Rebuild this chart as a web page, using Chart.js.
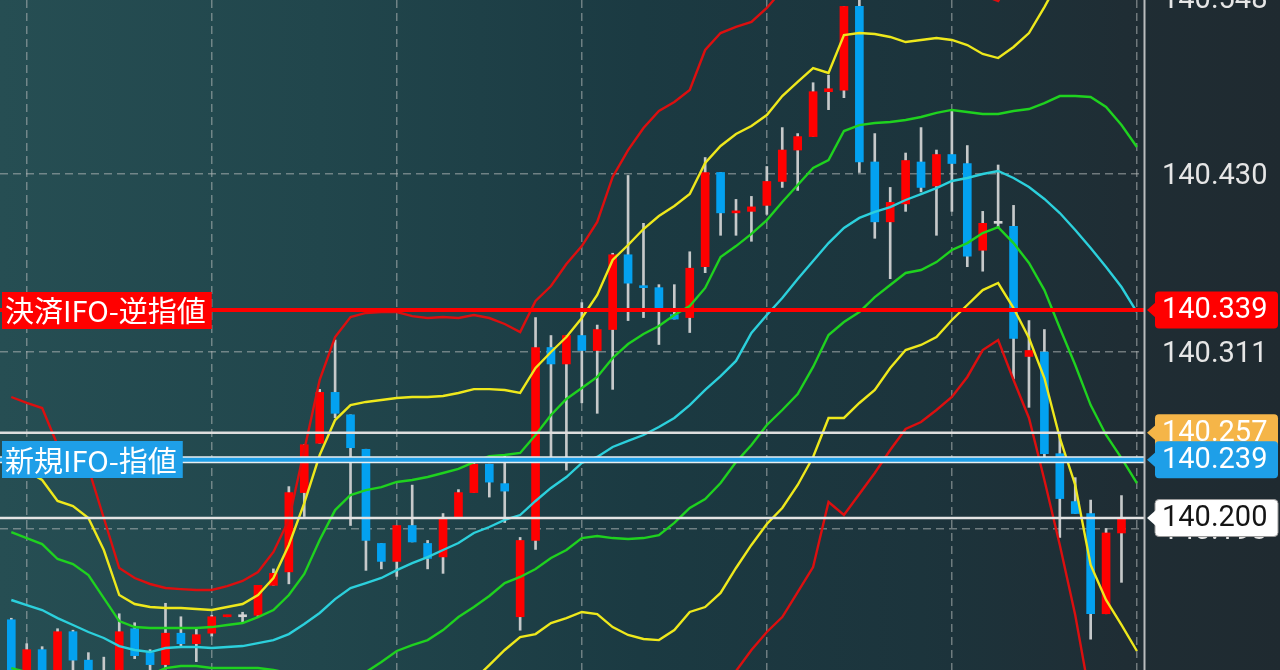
<!DOCTYPE html>
<html><head><meta charset="utf-8">
<script src="https://cdn.jsdelivr.net/npm/chart.js@4.4.1/dist/chart.umd.min.js"></script>
<style>
html,body{margin:0;padding:0;width:1280px;height:670px;overflow:hidden;
background:linear-gradient(90deg,#264e53 0%,#21464c 25%,#1b3a42 50%,#1c343c 72%,#1f2d34 88%,#1f2a30 100%);}
#wrap{position:absolute;left:0;top:0;width:1280px;height:670px;}
</style></head><body>
<div id="wrap"><canvas id="c"></canvas></div>
<script>
// ---- candle data (73 bars) ----
const opens = [140.132,140.088,140.112,140.085,140.124,140.105,140.084,140.092,140.126,140.110,
140.102,140.123,140.116,140.123,140.134,140.134,140.135,140.155,140.164,140.217,
140.250,140.284,140.269,140.246,140.183,140.171,140.195,140.183,140.174,140.200,
140.217,140.236,140.223,140.134,140.185,140.314,140.303,140.322,140.312,140.326,
140.376,140.355,140.354,140.336,140.334,140.368,140.431,140.404,140.405,140.409,
140.425,140.446,140.455,140.485,140.486,140.542,140.438,140.398,140.410,140.438,
140.422,140.443,140.437,140.379,140.397,140.395,140.308,140.311,140.243,140.211,
140.203,140.136,140.190];
const highs = [140.133,140.116,140.114,140.126,140.125,140.110,140.107,140.136,140.130,140.112,
140.143,140.134,140.126,140.135,140.135,140.137,140.155,140.166,140.221,140.249,
140.286,140.319,140.269,140.246,140.183,140.195,140.222,140.185,140.203,140.219,
140.237,140.236,140.242,140.187,140.334,140.322,140.322,140.344,140.329,140.377,
140.429,140.397,140.356,140.356,140.378,140.441,140.431,140.413,140.415,140.435,
140.461,140.457,140.491,140.496,140.542,140.548,140.457,140.421,140.444,140.461,
140.446,140.473,140.449,140.405,140.436,140.409,140.332,140.326,140.257,140.227,
140.212,140.193,140.215];
const lows = [140.078,140.082,140.078,140.082,140.095,140.078,140.078,140.082,140.106,140.098,
140.099,140.114,140.104,140.121,140.134,140.130,140.134,140.155,140.156,140.201,
140.250,140.267,140.195,140.165,140.166,140.161,140.184,140.166,140.163,140.200,
140.217,140.214,140.197,140.125,140.179,140.241,140.232,140.277,140.270,140.286,
140.332,140.334,140.316,140.333,140.324,140.364,140.389,140.389,140.385,140.403,
140.421,140.419,140.455,140.473,140.481,140.431,140.387,140.360,140.405,140.418,
140.389,140.405,140.368,140.365,140.394,140.293,140.274,140.241,140.187,140.203,
140.119,140.136,140.157];
const closes = [140.085,140.112,140.085,140.124,140.105,140.085,140.093,140.124,140.108,140.102,
140.123,140.116,140.122,140.134,140.135,140.134,140.155,140.163,140.217,140.249,
140.284,140.270,140.247,140.185,140.171,140.195,140.184,140.173,140.200,140.217,
140.236,140.224,140.218,140.185,140.314,140.303,140.322,140.312,140.326,140.376,
140.357,140.354,140.340,140.333,140.367,140.431,140.404,140.405,140.408,140.425,
140.446,140.455,140.485,140.487,140.542,140.438,140.398,140.411,140.439,140.421,
140.443,140.437,140.375,140.397,140.397,140.320,140.312,140.243,140.213,140.203,
140.136,140.190,140.200];

// ---- Bollinger band lines (74 points) ----
const bbMid = [140.1452,140.1418,140.1385,140.1331,140.1285,140.1238,140.1198,140.1144,140.1118,140.1104,
140.1131,140.1138,140.1138,140.1131,140.1138,140.1144,140.1164,140.1184,140.1224,140.1291,
140.1365,140.1458,140.1532,140.1565,140.1599,140.1652,140.1699,140.1739,140.1786,140.1833,
140.1900,140.1940,140.1987,140.2020,140.2114,140.2201,140.2274,140.2368,140.2408,140.2475,
140.2515,140.2555,140.2608,140.2669,140.2755,140.2856,140.2949,140.3050,140.3237,140.3357,
140.3471,140.3598,140.3718,140.3838,140.3939,140.4006,140.4046,140.4079,140.4126,140.4166,
140.4206,140.4253,140.4273,140.4300,140.4320,140.4273,140.4213,140.4133,140.4039,140.3925,
140.3805,140.3678,140.3544,140.3377];
const bbUp1 = [140.1906,140.1866,140.1826,140.1726,140.1692,140.1619,140.1465,140.1311,140.1271,140.1265,
140.1265,140.1265,140.1265,140.1271,140.1285,140.1298,140.1338,140.1385,140.1485,140.1626,
140.1853,140.2053,140.2154,140.2187,140.2207,140.2241,140.2254,140.2274,140.2301,140.2328,
140.2374,140.2414,140.2421,140.2435,140.2555,140.2689,140.2796,140.2869,140.2943,140.3070,
140.3163,140.3230,140.3284,140.3357,140.3417,140.3538,140.3745,140.3818,140.3899,140.3992,
140.4113,140.4226,140.4340,140.4393,140.4587,140.4627,140.4641,140.4647,140.4661,140.4681,
140.4708,140.4728,140.4714,140.4701,140.4701,140.4721,140.4734,140.4774,140.4821,140.4821,
140.4815,140.4748,140.4627,140.4480];
const bbLow1 = [140.0997,140.0970,140.0944,140.0937,140.0877,140.0857,140.0930,140.0977,140.0964,140.0950,
140.0997,140.1011,140.1011,140.0997,140.0997,140.0997,140.0997,140.0984,140.0964,140.0944,
140.0877,140.0863,140.0904,140.0970,140.1037,140.1111,140.1151,140.1184,140.1251,140.1338,
140.1405,140.1479,140.1565,140.1606,140.1659,140.1733,140.1786,140.1866,140.1880,140.1866,
140.1860,140.1866,140.1886,140.1967,140.2067,140.2127,140.2234,140.2374,140.2488,140.2622,
140.2722,140.2829,140.3010,140.3223,140.3310,140.3377,140.3477,140.3558,140.3638,140.3658,
140.3711,140.3792,140.3838,140.3905,140.3945,140.3838,140.3705,140.3524,140.3270,140.3023,
140.2755,140.2555,140.2401,140.2234];
const bbUp2 = [140.2361,140.2314,140.2254,140.2114,140.2080,140.2000,140.1786,140.1485,140.1425,140.1405,
140.1398,140.1398,140.1392,140.1385,140.1405,140.1425,140.1485,140.1599,140.1820,140.2100,
140.2421,140.2655,140.2755,140.2776,140.2789,140.2802,140.2809,140.2809,140.2816,140.2836,
140.2862,140.2862,140.2856,140.2836,140.3003,140.3110,140.3210,140.3337,140.3491,140.3725,
140.3825,140.3932,140.4019,140.4086,140.4166,140.4373,140.4487,140.4567,140.4621,140.4694,
140.4821,140.4915,140.5008,140.4975,140.5229,140.5242,140.5236,140.5216,140.5182,140.5196,
140.5209,140.5196,140.5162,140.5102,140.5075,140.5149,140.5242,140.5416,140.5603,140.5717,
140.5824,140.5817,140.5710,140.5583];
const bbLow2 = [140.0543,140.0522,140.0502,140.0543,140.0469,140.0476,140.0663,140.0810,140.0810,140.0783,
140.0863,140.0884,140.0884,140.0850,140.0843,140.0837,140.0817,140.0783,140.0703,140.0623,
140.0389,140.0268,140.0289,140.0322,140.0382,140.0476,140.0589,140.0670,140.0757,140.0843,
140.0917,140.1017,140.1118,140.1204,140.1224,140.1298,140.1331,140.1372,140.1358,140.1271,
140.1218,140.1191,140.1184,140.1251,140.1372,140.1405,140.1499,140.1666,140.1820,140.1960,
140.2067,140.2221,140.2408,140.2669,140.2669,140.2769,140.2856,140.3003,140.3123,140.3157,
140.3210,140.3324,140.3424,140.3524,140.3571,140.3404,140.3203,140.2936,140.2535,140.2221,
140.1686,140.1452,140.1285,140.1111];
const bbUp3 = [140.2809,140.2769,140.2735,140.2488,140.2441,140.2334,140.2000,140.1666,140.1599,140.1559,
140.1532,140.1525,140.1519,140.1519,140.1545,140.1579,140.1639,140.1773,140.1987,140.2455,
140.2923,140.3210,140.3344,140.3371,140.3377,140.3377,140.3350,140.3337,140.3344,140.3337,
140.3357,140.3337,140.3297,140.3243,140.3451,140.3551,140.3698,140.3818,140.3979,140.4280,
140.4460,140.4607,140.4721,140.4781,140.4861,140.5129,140.5242,140.5283,140.5316,140.5410,
140.5530,140.5583,140.5630,140.5563,140.5898,140.5864,140.5811,140.5771,140.5730,140.5704,
140.5697,140.5664,140.5583,140.5496,140.5456,140.5610,140.5764,140.6051,140.6386,140.6613,
140.6834,140.6887,140.6793,140.6686];
const bbLow3 = [140.0088,140.0075,140.0061,140.0148,140.0061,140.0095,140.0396,140.0643,140.0656,140.0623,
140.0730,140.0757,140.0757,140.0710,140.0696,140.0683,140.0643,140.0583,140.0442,140.0289,
139.9901,139.9673,139.9667,139.9700,139.9774,139.9887,140.0035,140.0135,140.0242,140.0349,
140.0476,140.0516,140.0683,140.0770,140.0783,140.0730,140.0716,140.0850,140.0783,140.0683,
140.0549,140.0516,140.0549,140.0616,140.0743,140.0783,140.0850,140.0977,140.1118,140.1238,
140.1338,140.1505,140.1672,140.2107,140.2020,140.2160,140.2301,140.2455,140.2595,140.2642,
140.2722,140.2809,140.2943,140.3123,140.3190,140.2923,140.2669,140.2254,140.1820,140.1352,
140.0777,140.0469,140.0295,140.0068];

// ---- axis ticks / order lines ----
const yTicks = [140.548, 140.430, 140.311, 140.193];
const xGridAt = [1, 13, 25, 37, 49, 61, 73];
const stopLoss = 140.339, stopLossText = '決済IFO-逆指値';
const entryLimit = 140.239, entryLimitText = '新規IFO-指値';
const otherLine = 140.257;
const currentPrice = 140.200;

const yMin = 140.0984, yMax = 140.5463;
const xMin = -0.733, xMax = 73.46;

const RED = '#ff0000', BLUE = '#03a1f0', GRAY = '#d4d4d4';
const candleIdx = opens.map((_, i) => i);
const bodyColors = candleIdx.map(i => closes[i] > opens[i] ? RED : (closes[i] < opens[i] ? BLUE : GRAY));

function lineDS(arr, color, order) {
  return { type:'line', data: arr.map((v,i)=>({x:i,y:v})), borderColor: color, borderWidth: 2.4,
    pointRadius: 0, tension: 0, fill: false, order: order };
}
function hLine(v, color, width, order) {
  return { type:'line', data: [{x:xMin,y:v},{x:xMax,y:v}], borderColor: color, borderWidth: width,
    pointRadius: 0, tension: 0, fill:false, order: order };
}

const tagPlugin = {
  id:'tags',
  afterDraw(chart) {
    const ctx = chart.ctx, ys = chart.scales.y;
    ctx.save();
    // axis separator
    ctx.strokeStyle = '#b9bcbd'; ctx.lineWidth = 2;
    ctx.beginPath(); ctx.moveTo(chart.chartArea.right + 0.5, 0); ctx.lineTo(chart.chartArea.right + 0.5, 670); ctx.stroke();
    // left order labels
    const leftTag = (v, text, bg) => {
      const y = ys.getPixelForValue(v);
      ctx.font = '29px "Noto Sans CJK JP", "Noto Sans", sans-serif';
      const w = ctx.measureText(text).width;
      ctx.fillStyle = bg;
      ctx.fillRect(2, Math.round(y - 18.5), w + 9, 37);
      ctx.fillStyle = '#ffffff'; ctx.textAlign = 'left'; ctx.textBaseline = 'middle';
      ctx.fillText(text, 5, y + 1);
    };
    leftTag(stopLoss, stopLossText, RED);
    leftTag(entryLimit, entryLimitText, '#1e9fe8');
    // right price tags
    const rightTag = (v, bg, fg, stroke) => {
      const y = ys.getPixelForValue(v);
      const bx = 1155, bw = 123, h = 37;
      ctx.fillStyle = bg;
      ctx.beginPath();
      ctx.roundRect(bx, y - h/2, bw, h, 4);
      ctx.fill();
      if (stroke) { ctx.strokeStyle = stroke; ctx.lineWidth = 1; ctx.stroke(); }
      ctx.beginPath();
      ctx.moveTo(1147, y); ctx.lineTo(bx + 1, y - 8); ctx.lineTo(bx + 1, y + 8); ctx.closePath();
      ctx.fillStyle = bg; ctx.fill();
      ctx.font = '29px Roboto, sans-serif';
      ctx.fillStyle = fg; ctx.textAlign = 'left'; ctx.textBaseline = 'middle';
      ctx.fillText(v.toFixed(3), 1162, y + 1);
    };
    rightTag(stopLoss, RED, '#ffffff');
    rightTag(otherLine, '#f5b548', '#ffffff');
    rightTag(entryLimit, '#1e9fe8', '#ffffff');
    rightTag(currentPrice, '#ffffff', '#151515', '#9a9a9a');
    ctx.restore();
  }
};

const gridColor = 'rgba(178,184,184,0.55)';

new Chart(document.getElementById('c'), {
  type: 'bar',
  data: {
    datasets: [
      hLine(stopLoss, RED, 4, 0),
      hLine(entryLimit, '#1e9fe8', 4, 0),
      hLine(entryLimit, '#e8eef0', 7, 0.5),
      hLine(otherLine, '#dedede', 2.5, 0.5),
      hLine(currentPrice, '#e4e4e4', 2.5, 0.5),
      lineDS(bbMid, '#2cd0dc', 1),
      lineDS(bbUp1, '#1fd21f', 1),
      lineDS(bbLow1, '#1fd21f', 1),
      lineDS(bbUp2, '#eee81c', 1),
      lineDS(bbLow2, '#eee81c', 1),
      lineDS(bbUp3, '#dc0f0f', 1),
      lineDS(bbLow3, '#dc0f0f', 1),
      { type:'bar', data: candleIdx.map(i => ({x:i, y:[opens[i], closes[i]]})), backgroundColor: bodyColors,
        barThickness: 8, minBarLength: 2, grouped: false, order: 2 },
      { type:'bar', data: candleIdx.map(i => ({x:i, y:[lows[i], highs[i]]})), backgroundColor: '#c6c9ca',
        barThickness: 2, grouped: false, order: 3 }
    ]
  },
  options: {
    responsive: true, maintainAspectRatio: false, animation: false,
    layout: { padding: 0 },
    plugins: { legend: { display:false }, tooltip: { enabled:false } },
    scales: {
      x: { type:'linear', min:xMin, max:xMax, offset:false,
        afterBuildTicks: s => { s.ticks = xGridAt.map(v => ({value:v})); },
        afterFit: s => { s.height = 0; s.paddingLeft = 0; s.paddingRight = 0; },
        ticks: { display:false },
        grid: { color: gridColor, lineWidth: 1.5, drawTicks:false, offset:false },
        border: { display:false, dash:[8,5] } },
      y: { type:'linear', position:'right', min:yMin, max:yMax,
        afterBuildTicks: s => { s.ticks = yTicks.map(v => ({value:v})); },
        afterFit: s => { s.width = 136; s.paddingTop = 0; s.paddingBottom = 0; },
        ticks: { color:'#e6e6e6', font:{ family:'Roboto', size:29 }, padding:18, crossAlign:'near',
          labelOffset: 3, callback: v => Number(v).toFixed(3) },
        grid: { color: gridColor, lineWidth: 1.5, drawTicks:false },
        border: { display:false, dash:[8,5] } }
    }
  },
  plugins: [tagPlugin]
});
</script>
</body></html>
